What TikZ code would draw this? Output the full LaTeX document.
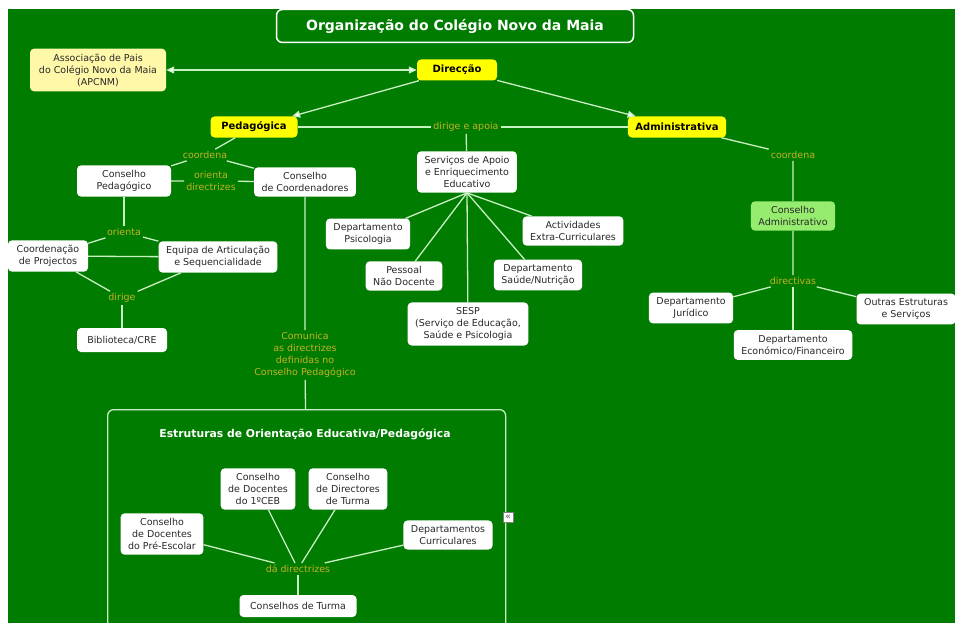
\documentclass[tikz,border=0pt]{standalone}
\usepackage{fontspec}
\setmainfont{DejaVu Sans}
\usepackage{tikz}
\usetikzlibrary{arrows.meta}

\definecolor{fundo}{RGB}{0,124,0}
\definecolor{linha}{RGB}{200,240,195}
\definecolor{rotulo}{RGB}{196,176,40}
\definecolor{amarelo}{RGB}{255,255,0}
\definecolor{amareloclaro}{RGB}{255,248,168}
\definecolor{verdeclaro}{RGB}{150,236,110}
\definecolor{textocinza}{RGB}{40,40,40}

\begin{document}
\begin{tikzpicture}[x = 1pt, y = -1pt,
        caixa/.style = {rounded corners = 4pt, fill = white, text = textocinza, align = center,
                font = \fontsize{9.5}{12}\selectfont, inner xsep = 7.5pt, inner ysep = 5pt,
                minimum height = 24pt},
        chefe/.style = {caixa, fill = amarelo, text = black, font = \fontsize{10}{12}\selectfont\bfseries,
                inner ysep = 3.5pt, minimum height = 21pt, minimum width = 80pt},
        rotulo/.style = {text = rotulo, align = center, font = \fontsize{9.5}{12}\selectfont, inner sep = 2pt},
        liga/.style = {draw = linha, line width = 1.3pt},
        seta/.style = {liga, -{Triangle[length = 8pt, width = 7pt, fill = white]}}]
        \useasboundingbox (0,0) rectangle (955,623);
        \fill[white] (0,0) rectangle (955,623);
        \fill[fundo] (8,9) rectangle (955,623);
        \clip (8,9) rectangle (955,623);

        % titulo
        \node[draw = white, line width = 1.5pt, rounded corners = 6pt, fill = fundo, text = white,
                font = \fontsize{14}{16}\selectfont\bfseries, minimum width = 357pt, minimum height = 33pt]
                (titulo) at (455,26) {Organização do Colégio Novo da Maia};

        % topo
        \node[caixa, fill = amareloclaro, minimum width = 136pt] (apcnm) at (98,70) {Associação de Pais\\do Colégio Novo da Maia\\(APCNM)};
        \node[chefe] (dir) at (457,70) {Direcção};
        \node[chefe, minimum width = 87pt] (ped) at (254,127) {Pedagógica};
        \node[chefe] (adm) at (677,127) {Administrativa};
        \draw[liga, {Triangle[length = 8pt, width = 7pt, fill = white]}-{Triangle[length = 8pt, width = 7pt, fill = white]}] (apcnm) -- (dir);
        \draw[seta] (dir) -- (ped);
        \draw[seta] (dir) -- (adm);

        \node[rotulo] (dirapoia) at (466,127) {dirige e apoia};
        \node[caixa] (serv) at (467,172) {Serviços de Apoio\\e Enriquecimento\\Educativo};
        \draw[liga] (ped) -- (dirapoia) -- (adm);
        \draw[liga] (dirapoia) -- (serv);

        % lado pedagogico
        \node[rotulo] (coordp) at (205,155) {coordena};
        \node[caixa, minimum width = 94pt] (cped) at (124,181) {Conselho\\Pedagógico};
        \node[caixa] (ccoord) at (305,182) {Conselho\\de Coordenadores};
        \node[rotulo] (oridir) at (211,181) {orienta\\directrizes};
        \draw[liga] (ped) -- (coordp);
        \draw[liga] (coordp) -- (cped);
        \draw[liga] (coordp) -- (ccoord);
        \draw[liga] (cped) -- (oridir) -- (ccoord);

        \node[rotulo] (orienta) at (124,232) {orienta};
        \node[caixa, minimum width = 80pt] (cproj) at (48,256) {Coordenação\\de Projectos};
        \node[caixa] (equipa) at (218,257) {Equipa de Articulação\\e Sequencialidade};
        \node[rotulo] (dirige) at (122,298) {dirige};
        \node[caixa, minimum width = 90pt] (bib) at (122,340) {Biblioteca/CRE};
        \draw[liga] (cped) -- (orienta);
        \draw[liga] (orienta) -- (cproj);
        \draw[liga] (orienta) -- (equipa);
        \draw[liga] (cproj) -- (equipa);
        \draw[liga] (cproj) -- (dirige);
        \draw[liga] (equipa) -- (dirige);
        \draw[liga] (dirige) -- (bib);

        % servicos de apoio
        \node[caixa] (dpsico) at (368,234) {Departamento\\Psicologia};
        \node[caixa] (activ) at (573,231) {Actividades\\Extra-Curriculares};
        \node[caixa] (pessoal) at (404,276) {Pessoal\\Não Docente};
        \node[caixa] (saude) at (538,275) {Departamento\\Saúde/Nutrição};
        \node[caixa] (sesp) at (468,324) {SESP\\(Serviço de Educação,\\Saúde e Psicologia};
        \foreach \filho in {dpsico, activ, pessoal, saude, sesp}
                \draw[liga] (serv.south) -- (\filho);

        % lado administrativo
        \node[rotulo] (coorda) at (793,155) {coordena};
        \node[caixa, fill = verdeclaro] (cadm) at (793,216) {Conselho\\Administrativo};
        \node[rotulo] (directivas) at (793,281) {directivas};
        \node[caixa] (djur) at (691,308) {Departamento\\Jurídico};
        \node[caixa] (deco) at (793,345) {Departamento\\Económico/Financeiro};
        \node[caixa] (outras) at (906,309) {Outras Estruturas\\e Serviços};
        \draw[liga] (adm) -- (coorda) -- (cadm) -- (directivas);
        \draw[liga] (directivas) -- (djur);
        \draw[liga] (directivas) -- (deco);
        \draw[liga] (directivas) -- (outras);

        % estruturas de orientacao
        \node[rotulo] (comunica) at (305,355) {Comunica\\as directrizes\\definidas no\\Conselho Pedagógico};
        \node[draw = linha, line width = 1.3pt, rounded corners = 6pt, anchor = north west,
                minimum width = 398pt, minimum height = 260pt] (estr) at (107,409) {};
        \draw[liga] (ccoord) -- (comunica) -- (estr);
        \node[text = white, font = \fontsize{10.8}{13}\selectfont\bfseries] (estrtit) at (305,434)
                {Estruturas de Orientação Educativa/Pedagógica};

        \node[caixa] (cdoc) at (258,489) {Conselho\\de Docentes\\do 1ºCEB};
        \node[caixa] (cdir) at (348,489) {Conselho\\de Directores\\de Turma};
        \node[caixa] (cpre) at (162,534) {Conselho\\de Docentes\\do Pré-Escolar};
        \node[caixa] (dcurr) at (448,535) {Departamentos\\Curriculares};
        \node[rotulo] (dadir) at (298,569) {dá directrizes};
        \node[caixa, minimum width = 117pt, minimum height = 22pt] (cturma) at (298,606) {Conselhos de Turma};
        \foreach \filho in {cdoc, cdir, cpre, dcurr}
                \draw[liga] (\filho) -- (dadir);
        \draw[liga] (dadir) -- (cturma);

        \node[draw = gray, fill = white, text = black!70, inner sep = 0pt, minimum size = 10pt,
                font = \fontsize{9}{9}\selectfont] (recolhe) at (508,517) {«};
\end{tikzpicture}
\end{document}
